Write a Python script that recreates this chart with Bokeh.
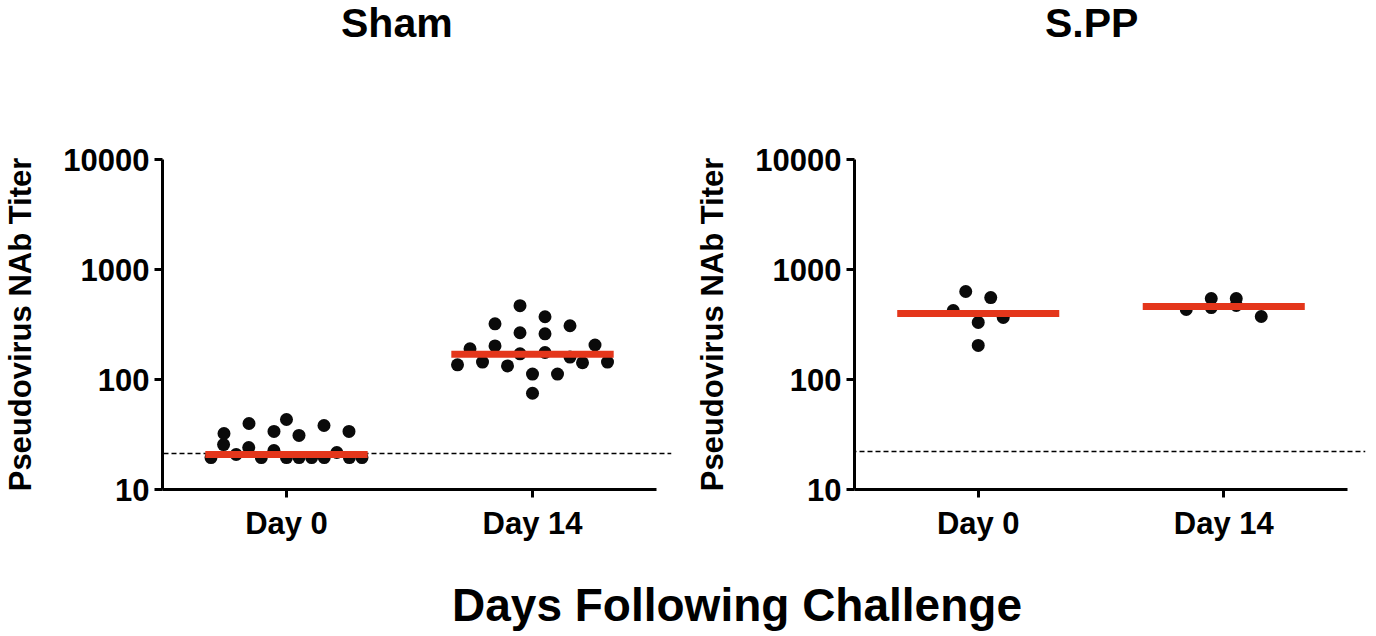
import numpy as np
from bokeh.plotting import figure
from bokeh.models import Range1d, FixedTicker, Div, Arrow
from bokeh.layouts import column, row
from bokeh.embed import file_html
from bokeh.resources import INLINE

# ---------------- data ----------------
groups = ["Day 0", "Day 14"]
panel_titles = ["Sham", "S.PP"]

sham_day0 = [19.5, 25.6, 20.8, 24.1, 32.3, 43.3, 19.5, 39.8, 22.6, 19.5,
             33.7, 19.5, 19.5, 31.0, 19.5, 38.2, 21.7, 33.7, 19.5, 19.5]
sham_day14 = [136, 190, 144, 202, 321, 133, 171, 266, 75, 112,
              176, 469, 112, 160, 260, 372, 142, 308, 144, 206]
spp_day0 = [424, 631, 204, 330, 556, 366]
spp_day14 = [433, 545, 451, 471, 374, 545]

sham_median = [20.8, 170]
spp_median = [398, 461]
sham_cutoff = 21.2
spp_cutoff = 22.1

y_ticks = [10, 100, 1000, 10000]
y_tick_labels = ["10", "100", "1000", "10000"]
y_label = "Pseudovirus NAb Titer"
x_label = "Days Following Challenge"

# ---------------- styling ----------------
FONT = "Liberation Sans"
DOT = 13
RED = "#E4361B"
X_START, X_END = -0.504, 1.504
FRAME_H = 330
MED_HALF = 0.33


def swarm(vals, center, px_cat, px_dec, step=25.0, max_half=75.5):
    """Simple row-binned swarm layout (keeps list order inside a row)."""
    ly = np.log10(np.asarray(vals, dtype=float)) * px_dec
    remaining = sorted(range(len(vals)), key=lambda i: ly[i])
    xs = [0.0] * len(vals)
    while remaining:
        base = ly[remaining[0]]
        rowi = sorted(i for i in remaining if ly[i] - base < DOT + 0.5)
        n = len(rowi)
        s = step if n < 2 else min(step, 2 * max_half / (n - 1))
        for k, i in enumerate(rowi):
            xs[i] = center + (k - (n - 1) / 2) * s / px_cat
        remaining = [i for i in remaining if i not in rowi]
    return xs


def make_panel(series, medians, cutoff, axis_w, b_left, b_right, b_top, b_bottom, ext):
    px_cat = axis_w / (X_END - X_START)
    x_end_frame = X_END + ext[1] / px_cat
    frame_w = axis_w + ext[1]
    p = figure(frame_width=frame_w, frame_height=FRAME_H,
               x_range=Range1d(X_START, x_end_frame), y_range=Range1d(10, 10000),
               y_axis_type="log", output_backend="svg", toolbar_location=None,
               min_border_left=b_left, min_border_right=b_right,
               min_border_top=b_top, min_border_bottom=b_bottom,
               background_fill_color="white", border_fill_color="white")
    p.outline_line_color = None
    p.grid.visible = False

    px_dec = FRAME_H / 3.0

    cut = Arrow(start=None, end=None,
                x_start=X_START - ext[0] / px_cat, x_end=x_end_frame,
                y_start=cutoff, y_end=cutoff,
                line_color="black", line_width=1.5, line_dash="5 3", level="underlay")
    p.add_layout(cut)

    for gi, vals in enumerate(series):
        xs = swarm(vals, gi, px_cat, px_dec)
        p.scatter(xs, vals, size=DOT, fill_color="#0a0a0a", line_color=None)

    idx = np.arange(len(groups))
    p.segment(x0=idx - MED_HALF, x1=idx + MED_HALF, y0=medians, y1=medians,
              line_color=RED, line_width=7, line_cap="butt")

    for ax in (p.xaxis, p.yaxis):
        ax.axis_line_width = 3
        ax.axis_line_color = "black"
        ax.major_tick_line_width = 3
        ax.major_tick_line_color = "black"
        ax.major_tick_out = 8
        ax.major_tick_in = 0
        ax.minor_tick_line_color = None
        ax.major_label_text_font = FONT
        ax.major_label_text_font_style = "bold"
        ax.major_label_text_font_size = "31px"
        ax.major_label_text_color = "black"

    p.xaxis.bounds = (X_START, X_END)
    p.xaxis.ticker = FixedTicker(ticks=list(range(len(groups))))
    p.xaxis.major_label_overrides = {i: g for i, g in enumerate(groups)}
    p.xaxis.major_label_standoff = 8

    p.yaxis.ticker = FixedTicker(ticks=y_ticks)
    p.yaxis.major_label_overrides = {t: l for t, l in zip(y_ticks, y_tick_labels)}
    p.yaxis.major_label_standoff = 5
    p.yaxis.axis_label = y_label
    p.yaxis.axis_label_text_font = FONT
    p.yaxis.axis_label_text_font_style = "bold"
    p.yaxis.axis_label_text_font_size = "31px"
    p.yaxis.axis_label_text_color = "black"
    p.yaxis.axis_label_standoff = 22
    return p


p1 = make_panel([sham_day0, sham_day14], sham_median, sham_cutoff,
                494, 155, 21, 105, 92, (15, 15))
p2 = make_panel([spp_day0, spp_day14], spp_median, spp_cutoff,
                493, 156, 8, 109, 88, (11, 18))


def title_div(text, width, pad):
    return Div(text=text, width=width, height=40,
               styles={"font-family": FONT, "font-weight": "bold", "font-size": "41px",
                       "padding-left": f"{pad}px", "color": "black",
                       "white-space": "nowrap", "line-height": "37px"})


t1 = title_div(panel_titles[0], 685, 336)
t2 = title_div(panel_titles[1], 675, 345)

xlab = Div(text=x_label, width=1368, height=55,
           styles={"font-family": FONT, "font-weight": "bold", "font-size": "46px",
                   "padding-left": "447px", "color": "black", "white-space": "nowrap",
                   "line-height": "46px"})

layout = column(row(t1, t2), row(p1, p2), xlab)
open("out.html", "w").write(file_html(layout, INLINE))
